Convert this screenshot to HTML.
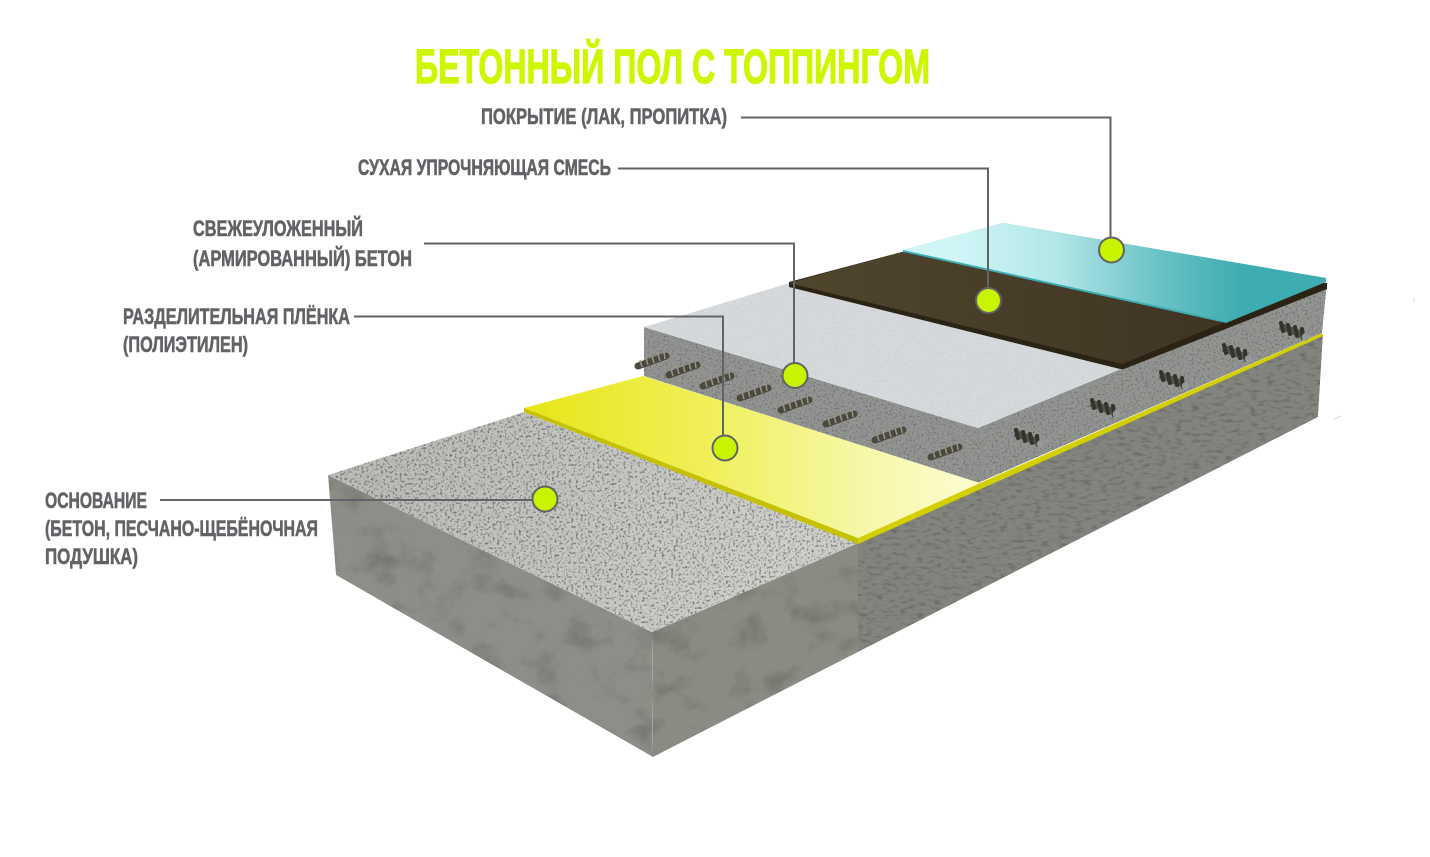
<!DOCTYPE html>
<html><head><meta charset="utf-8"><style>
html,body{margin:0;padding:0;background:#fff}
svg{display:block}
text{font-family:"Liberation Sans Narrow","Liberation Sans",sans-serif;font-weight:700}
</style></head><body>
<svg xmlns="http://www.w3.org/2000/svg" width="1430" height="857" viewBox="0 0 1430 857">
<defs>
<filter id="grain" x="0" y="0" width="100%" height="100%" color-interpolation-filters="sRGB">
<feTurbulence type="fractalNoise" baseFrequency="0.42" numOctaves="2" seed="4" result="n"/>
<feColorMatrix in="n" type="matrix" values="1.45 0 0 0 .27 1.45 0 0 0 .27 1.45 0 0 0 .27 0 0 0 0 1" result="g"/>
<feComposite in="SourceGraphic" in2="g" operator="arithmetic" k1="1" k2="0" k3="0" k4="0" result="c"/>
<feComposite in="c" in2="SourceGraphic" operator="in"/>
</filter>
<filter id="mottle" x="0" y="0" width="100%" height="100%" color-interpolation-filters="sRGB">
<feTurbulence type="fractalNoise" baseFrequency="0.03 0.04" numOctaves="7" seed="9" result="n"/>
<feColorMatrix in="n" type="matrix" values=".4 0 0 0 .8 .4 0 0 0 .8 .4 0 0 0 .8 0 0 0 0 1" result="g"/>
<feComposite in="SourceGraphic" in2="g" operator="arithmetic" k1="1" k2="0" k3="0" k4="0" result="c"/>
<feComposite in="c" in2="SourceGraphic" operator="in"/>
</filter>
<filter id="fine" x="0" y="0" width="100%" height="100%" color-interpolation-filters="sRGB">
<feTurbulence type="fractalNoise" baseFrequency="0.5" numOctaves="2" seed="2" result="n"/>
<feColorMatrix in="n" type="matrix" values=".85 0 0 0 .58 .85 0 0 0 .58 .85 0 0 0 .58 0 0 0 0 1" result="g"/>
<feComposite in="SourceGraphic" in2="g" operator="arithmetic" k1="1" k2="0" k3="0" k4="0" result="c"/>
<feComposite in="c" in2="SourceGraphic" operator="in"/>
</filter>
<filter id="streak" x="0" y="0" width="100%" height="100%" color-interpolation-filters="sRGB">
<feTurbulence type="fractalNoise" baseFrequency="0.12 0.3" numOctaves="3" seed="5" result="n"/>
<feColorMatrix in="n" type="matrix" values=".55 0 0 0 .72 .55 0 0 0 .72 .55 0 0 0 .72 0 0 0 0 1" result="g"/>
<feComposite in="SourceGraphic" in2="g" operator="arithmetic" k1="1" k2="0" k3="0" k4="0" result="c"/>
<feComposite in="c" in2="SourceGraphic" operator="in"/>
</filter>
<filter id="soft" x="0" y="0" width="100%" height="100%" color-interpolation-filters="sRGB">
<feTurbulence type="fractalNoise" baseFrequency="0.4" numOctaves="2" seed="7" result="n"/>
<feColorMatrix in="n" type="matrix" values=".12 0 0 0 .94 .12 0 0 0 .94 .12 0 0 0 .94 0 0 0 0 1" result="g"/>
<feComposite in="SourceGraphic" in2="g" operator="arithmetic" k1="1" k2="0" k3="0" k4="0" result="c"/>
<feComposite in="c" in2="SourceGraphic" operator="in"/>
</filter>
<linearGradient id="yel" gradientUnits="userSpaceOnUse" x1="540" y1="0" x2="960" y2="0">
<stop offset="0" stop-color="#e7e61c"/><stop offset=".4" stop-color="#eff05a"/><stop offset=".75" stop-color="#f6f7a4"/><stop offset="1" stop-color="#fbfcca"/>
</linearGradient>
<linearGradient id="teal" gradientUnits="userSpaceOnUse" x1="960" y1="0" x2="1240" y2="0">
<stop offset="0" stop-color="#cff5f7"/><stop offset=".35" stop-color="#b2e6e7"/><stop offset=".7" stop-color="#6cc3c6"/><stop offset="1" stop-color="#3eadb1"/>
</linearGradient>
<linearGradient id="brown" gradientUnits="userSpaceOnUse" x1="800" y1="0" x2="1220" y2="0">
<stop offset="0" stop-color="#50452d"/><stop offset="1" stop-color="#3f3523"/>
</linearGradient>
<linearGradient id="btop" gradientUnits="userSpaceOnUse" x1="400" y1="430" x2="760" y2="600">
<stop offset="0" stop-color="#bcbcb8"/><stop offset="1" stop-color="#cfcfcb"/>
</linearGradient>
<g id="ra">
<path d="M-14 6 L14 -4" stroke="#4b483d" stroke-width="7" stroke-linecap="round"/>
<path d="M-10 7 L-12 0 M-4 5 L-6 -2 M2 3 L0 -4 M8 1 L6 -6 M13 -1 L12 -8" stroke="#9a9788" stroke-width="1.500"/>
</g>
<g id="rb">
<path d="M-12 -5 L11 4" stroke="#55544b" stroke-width="7"/>
<path d="M-11 -8 L-9 0 M-4 -6 L-2 3 M3 -4 L5 5 M10 -2 L11 7" stroke="#34332c" stroke-width="4" stroke-linecap="round"/>
<circle cx="13.500" cy="6" r="3.800" fill="#96989c"/>
</g>
</defs>

<!-- base block -->
<polygon points="328,475 652,632 653,757 336,575" fill="#8d8e88" filter="url(#mottle)"/>
<polygon points="652,632 858,543 858,652 653,757" fill="#8a8b83" filter="url(#mottle)"/>
<polygon points="858,543 1323,334 1318,417 858,652" fill="#83847d" filter="url(#streak)"/>
<polygon points="328,475 524,412 858,543 652,632" fill="url(#btop)" filter="url(#grain)"/>

<!-- mid block -->
<polygon points="644,327 978,428 978,483 644,376" fill="#939593" filter="url(#fine)"/>
<polygon points="978,428 1327,283 1322,333 978,483" fill="#939592" filter="url(#fine)"/>
<polygon points="644,327 789,283 1124,368 978,428" fill="#d6d9dc" filter="url(#soft)"/>

<!-- yellow film -->
<polygon points="858,538 980,483 1322,333 1323,336 858,544" fill="#d4d000"/>
<polygon points="524,408 643,376 980,483 858,538" fill="url(#yel)"/>
<polygon points="524,408 858,538 858,544 524,412" fill="#c6c200"/>

<!-- rebar left face -->
<use href="#ra" x="652" y="360"/><use href="#ra" x="683" y="369"/><use href="#ra" x="717" y="380"/><use href="#ra" x="754" y="392"/>
<use href="#ra" x="795" y="404"/><use href="#ra" x="840" y="418"/><use href="#ra" x="889" y="434"/><use href="#ra" x="945" y="451"/>
<!-- rebar right face -->
<use href="#rb" x="1027" y="438"/><use href="#rb" x="1103" y="408"/><use href="#rb" x="1172" y="380"/><use href="#rb" x="1235" y="353"/><use href="#rb" x="1292" y="331"/>

<!-- brown + teal -->
<polygon points="789,282 902,252 1327,283 1327,289 1124,369 1120,369 789,287" fill="#2b2415"/>
<polygon points="789,283 902,252 1230,320 1122,364" fill="url(#brown)"/>
<polygon points="903,250 1003,223 1326,278 1326,282 1226,323 903,252" fill="#3eadb1"/>
<polygon points="903,250 1003,223 1326,278 1226,321" fill="url(#teal)"/>

<!-- stray marks -->
<path d="M1334 419 L1341 416 M1414 298 L1414 303" stroke="#d8d8d8" stroke-width="1"/>

<!-- connectors -->
<g fill="none" stroke="#626366" stroke-width="2">
<path d="M741 117.500 H1110.500 V238"/>
<path d="M618 168.500 H988 V288"/>
<path d="M424 243.500 H794 V363"/>
<path d="M354 316.500 H723 V436"/>
<path d="M160 500 H533"/>
</g>
<g fill="#c9f400" stroke="#626366" stroke-width="2">
<circle cx="1111.500" cy="250" r="12.500"/>
<circle cx="988.500" cy="300.500" r="12.500"/>
<circle cx="795" cy="375.500" r="12.500"/>
<circle cx="725" cy="448" r="12.500"/>
<circle cx="545" cy="499" r="12.500"/>
</g>

<!-- text -->
<text x="415" y="83" font-size="48" fill="#cdf700" stroke="#cdf700" stroke-width="1.200" textLength="515" lengthAdjust="spacingAndGlyphs">БЕТОННЫЙ ПОЛ С ТОППИНГОМ</text>
<g fill="#626366" stroke="#626366" stroke-width=".6" font-size="22">
<text x="481" y="124" textLength="246" lengthAdjust="spacingAndGlyphs">ПОКРЫТИЕ (ЛАК, ПРОПИТКА)</text>
<text x="358" y="175" textLength="253" lengthAdjust="spacingAndGlyphs">СУХАЯ УПРОЧНЯЮЩАЯ СМЕСЬ</text>
<text x="193" y="236" textLength="170" lengthAdjust="spacingAndGlyphs">СВЕЖЕУЛОЖЕННЫЙ</text>
<text x="193" y="266" textLength="219" lengthAdjust="spacingAndGlyphs">(АРМИРОВАННЫЙ) БЕТОН</text>
<text x="123" y="324" textLength="227" lengthAdjust="spacingAndGlyphs">РАЗДЕЛИТЕЛЬНАЯ ПЛЁНКА</text>
<text x="123" y="352" textLength="125" lengthAdjust="spacingAndGlyphs">(ПОЛИЭТИЛЕН)</text>
<text x="45" y="508" textLength="102" lengthAdjust="spacingAndGlyphs">ОСНОВАНИЕ</text>
<text x="45" y="536" textLength="273" lengthAdjust="spacingAndGlyphs">(БЕТОН, ПЕСЧАНО-ЩЕБЁНОЧНАЯ</text>
<text x="45" y="564" textLength="93" lengthAdjust="spacingAndGlyphs">ПОДУШКА)</text>
</g>
</svg>
</body></html>
